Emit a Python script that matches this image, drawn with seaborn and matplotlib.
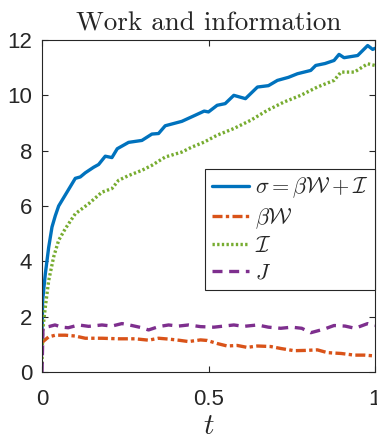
import matplotlib
matplotlib.use("Agg")
import matplotlib.pyplot as plt
import seaborn as sns
import pandas as pd

# --- entropy production sigma = beta*W + I ---
t_sigma = [0, 0.002, 0.01, 0.02, 0.03, 0.04, 0.05, 0.065, 0.08, 0.10, 0.115, 0.13,
           0.155, 0.17, 0.19, 0.21, 0.226, 0.26, 0.30, 0.33, 0.35, 0.37, 0.42, 0.46,
           0.487, 0.50, 0.526, 0.55, 0.576, 0.611, 0.647, 0.68, 0.707, 0.74, 0.767,
           0.807, 0.822, 0.85, 0.877, 0.892, 0.907, 0.948, 0.978, 0.993, 1.0]
sigma = [1.4, 2.6, 3.55, 4.5, 5.24, 5.65, 6.0, 6.3, 6.6, 7.0, 7.05, 7.2,
         7.4, 7.5, 7.8, 7.75, 8.07, 8.3, 8.37, 8.6, 8.62, 8.9, 9.06, 9.28,
         9.43, 9.4, 9.64, 9.7, 10.0, 9.88, 10.3, 10.35, 10.54, 10.65, 10.78,
         10.9, 11.08, 11.15, 11.26, 11.48, 11.36, 11.44, 11.8, 11.66, 11.7]

# --- work term beta*W ---
t_work = [0, 0.003, 0.02, 0.04, 0.07, 0.10, 0.13, 0.18, 0.23, 0.28, 0.32, 0.35,
          0.38, 0.41, 0.44, 0.476, 0.496, 0.526, 0.556, 0.586, 0.616, 0.647, 0.687,
          0.717, 0.757, 0.79, 0.827, 0.857, 0.898, 0.938, 0.968, 1.0]
beta_w = [1.0, 1.1, 1.27, 1.33, 1.33, 1.30, 1.22, 1.22, 1.20, 1.20, 1.15, 1.22,
          1.19, 1.15, 1.10, 1.16, 1.14, 1.03, 0.94, 0.96, 0.89, 0.94, 0.92,
          0.85, 0.77, 0.78, 0.80, 0.70, 0.67, 0.61, 0.61, 0.58]

# --- information term I ---
t_info = [0, 0.002, 0.01, 0.02, 0.035, 0.05, 0.07, 0.10, 0.14, 0.18, 0.21, 0.23,
          0.26, 0.30, 0.33, 0.37, 0.42, 0.45, 0.487, 0.526, 0.576, 0.627, 0.677,
          0.727, 0.777, 0.827, 0.877, 0.898, 0.938, 0.978, 1.0]
info = [0.3, 1.5, 2.35, 3.3, 4.16, 4.76, 5.18, 5.72, 6.08, 6.5, 6.63, 6.93,
        7.1, 7.29, 7.47, 7.77, 7.95, 8.13, 8.31, 8.56, 8.8, 9.1, 9.46,
        9.76, 10.0, 10.3, 10.54, 10.84, 10.84, 11.14, 11.08]

# --- J ---
t_j = [0, 0.003, 0.02, 0.039, 0.06, 0.079, 0.11, 0.14, 0.18, 0.21, 0.24, 0.27,
       0.30, 0.32, 0.35, 0.38, 0.41, 0.44, 0.476, 0.516, 0.576, 0.606, 0.647,
       0.68, 0.717, 0.75, 0.78, 0.807, 0.847, 0.877, 0.91, 0.94, 0.978, 1.0]
j_vals = [0.0, 1.6, 1.64, 1.70, 1.62, 1.60, 1.70, 1.65, 1.70, 1.66, 1.75, 1.68,
          1.60, 1.52, 1.64, 1.70, 1.66, 1.70, 1.64, 1.62, 1.70, 1.65, 1.70,
          1.62, 1.58, 1.62, 1.58, 1.42, 1.55, 1.68, 1.66, 1.58, 1.75, 1.68]

labels = [r"$\sigma = \beta\mathcal{W} + \mathcal{I}$", r"$\beta\mathcal{W}$",
          r"$\mathcal{I}$", r"$J$"]
colors = ["#0072BD", "#D95319", "#77AC30", "#7E2F8E"]
x_ticks = [0, 0.5, 1]
x_tick_labels = ["0", "0.5", "1"]
y_ticks = [0, 2, 4, 6, 8, 10, 12]

sns.set_style("ticks")
plt.rcParams["font.family"] = ["Liberation Sans", "DejaVu Sans"]
plt.rcParams["mathtext.fontset"] = "cm"
plt.rcParams["axes.edgecolor"] = "#262626"
plt.rcParams["xtick.color"] = "#262626"
plt.rcParams["ytick.color"] = "#262626"

fig = plt.figure(figsize=(3.77, 4.41), dpi=100)
ax = fig.add_axes([42 / 377, 69 / 441, 333 / 377, 332 / 441])

series = [
    (t_sigma, sigma, None),
    (t_work, beta_w, (3.0, 1.0, 1.0, 1.0)),
    (t_info, info, (0.7, 0.7)),
    (t_j, j_vals, (3.0, 2.0)),
]
for (tx, vy, dash), lab, col in zip(series, labels, colors):
    df = pd.DataFrame({"t": tx, "v": vy})
    sns.lineplot(data=df, x="t", y="v", ax=ax, color=col, linewidth=2.4,
                 label=lab, estimator=None, sort=False)
    line = ax.lines[-1]
    if dash is not None:
        line.set_dashes(dash)

ax.set_xlim(0, 1)
ax.set_ylim(0, 12)
ax.set_xticks(x_ticks)
ax.set_xticklabels(x_tick_labels)
ax.set_yticks(y_ticks)
ax.tick_params(direction="in", top=True, right=True, length=4, width=0.8,
               labelsize=16)
ax.tick_params(axis="x", pad=12)
ax.tick_params(axis="y", pad=7)
for s in ax.spines.values():
    s.set_linewidth(0.8)
    s.set_visible(True)

ax.set_xlabel("$t$", fontsize=21, labelpad=2)
ax.set_ylabel("")
ax.set_title("Work and information", fontfamily="cmr10", fontsize=19.5, pad=7)

handles = ax.get_lines()
leg = ax.legend(handles=handles, labels=labels, loc="upper right",
                bbox_to_anchor=(1.0, 0.611), borderaxespad=0.0, fontsize=16,
                frameon=True, fancybox=False, framealpha=1.0, edgecolor="#262626",
                handlelength=1.7, handletextpad=0.25, labelspacing=0.25,
                borderpad=0.3)
leg.get_frame().set_linewidth(0.8)

fig.savefig("out.png", dpi=100)
